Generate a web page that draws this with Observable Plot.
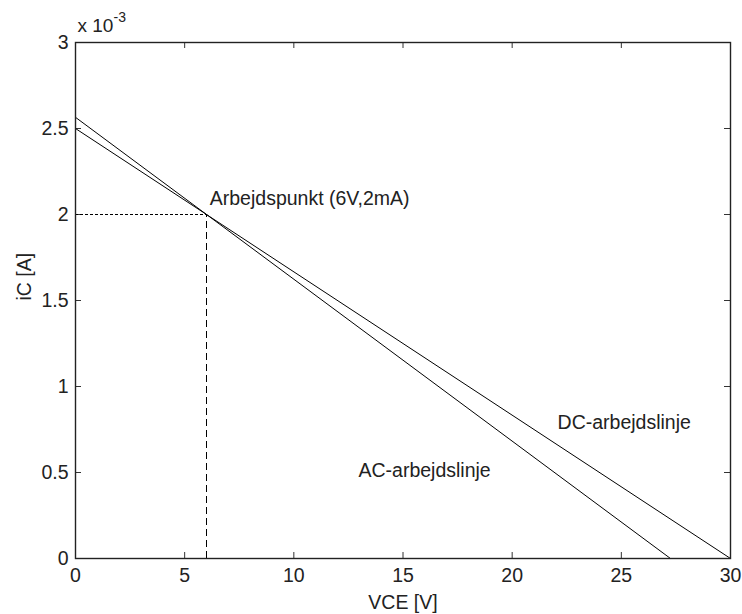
<!DOCTYPE html>
<html>
<head>
<meta charset="utf-8">
<script src="https://cdn.jsdelivr.net/npm/d3@7"></script>
<script src="https://cdn.jsdelivr.net/npm/@observablehq/plot@0.6"></script>
<style>
  html, body { margin: 0; padding: 0; background: #fff; }
</style>
</head>
<body>
<div id="chart"></div>
<script>
// Data (iC in ampere, VCE in volt)
const vceDC = [0, 30];
const icDC = [0.0025, 0];
const vceAC = [0, 27.25];
const icAC = [0.002565, 0];
const qVce = 6;
const qIc = 0.002;
const xTicks = [0, 5, 10, 15, 20, 25, 30];
const yTicks = [0, 0.0005, 0.001, 0.0015, 0.002, 0.0025, 0.003];
const labels = [
  {text: "Arbejdspunkt (6V,2mA)", vce: 6.15, ic: 0.002093},
  {text: "DC-arbejdslinje", vce: 22.08, ic: 0.000791},
  {text: "AC-arbejdslinje", vce: 12.96, ic: 0.000512}
];

const dcLine = vceDC.map((v, i) => ({vce: v, ic: icDC[i]}));
const acLine = vceAC.map((v, i) => ({vce: v, ic: icAC[i]}));

const W = 742, H = 614, mL = 75, mR = 12, mT = 42, mB = 56;
const fw = W - mL - mR, fh = H - mT - mB;
const tl = 6;

const chart = Plot.plot({
  width: W, height: H,
  marginLeft: mL, marginRight: mR, marginTop: mT, marginBottom: mB,
  style: {fontFamily: "'Liberation Sans', Arial, sans-serif", fontSize: "19.5px", color: "#000", background: "#fff"},
  x: {domain: [0, 30]},
  y: {domain: [0, 0.003]},
  marks: [
    Plot.axisX({ticks: xTicks, tickSize: 0, tickPadding: 10, label: null, tickFormat: d => String(d), fill: "#222"}),
    Plot.axisY({ticks: yTicks, tickSize: 0, tickPadding: 7, label: null, tickFormat: d => String(Math.round(d * 10000) / 10), fill: "#222"}),
    Plot.tickX(xTicks, {x: d => d, insetTop: fh - tl, stroke: "#333"}),
    Plot.tickX(xTicks, {x: d => d, insetBottom: fh - tl, stroke: "#333"}),
    Plot.tickY(yTicks, {y: d => d, insetRight: fw - tl, stroke: "#333"}),
    Plot.tickY(yTicks, {y: d => d, insetLeft: fw - tl, stroke: "#333"}),
    Plot.line(dcLine, {x: "vce", y: "ic", stroke: "#000", strokeWidth: 1}),
    Plot.line(acLine, {x: "vce", y: "ic", stroke: "#000", strokeWidth: 1}),
    Plot.ruleY([qIc], {x1: 0, x2: qVce, stroke: "#000", strokeWidth: 1, strokeDasharray: "3,2"}),
    Plot.ruleX([qVce], {y1: 0, y2: qIc, stroke: "#000", strokeWidth: 1, strokeDasharray: "7,4"}),
    Plot.text(labels, {x: "vce", y: "ic", text: "text", textAnchor: "start", fill: "#222"}),
    Plot.frame({stroke: "#222", strokeWidth: 1.4}),
    Plot.text(["VCE [V]"], {frameAnchor: "bottom", lineAnchor: "middle", dy: 44, fill: "#222"}),
    Plot.text(["iC [A]"], {frameAnchor: "left", lineAnchor: "middle", dx: -51, rotate: -90, fill: "#222"}),
    Plot.text(["x 10"], {frameAnchor: "top-left", lineAnchor: "middle", textAnchor: "start", dx: 2, dy: -17, fontSize: 19, fill: "#222"}),
    Plot.text(["-3"], {frameAnchor: "top-left", lineAnchor: "middle", textAnchor: "start", dx: 38, dy: -25, fontSize: 14, fill: "#222"})
  ]
});
document.getElementById("chart").appendChild(chart);
</script>
</body>
</html>
